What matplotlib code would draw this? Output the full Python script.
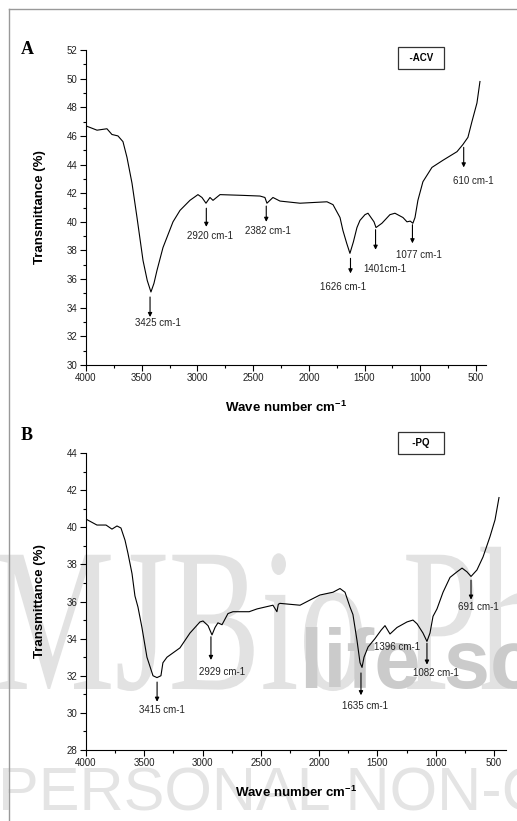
import matplotlib
matplotlib.use("Agg")
import matplotlib.pyplot as plt
from matplotlib.ticker import MultipleLocator
from matplotlib.lines import Line2D
from matplotlib.textpath import TextPath
from matplotlib.patches import PathPatch
from matplotlib.font_manager import FontProperties
from matplotlib.transforms import Affine2D, IdentityTransform

plt.rcParams['font.family'] = ['Liberation Sans', 'DejaVu Sans']
plt.rcParams['mathtext.fontset'] = 'custom'
plt.rcParams['mathtext.rm'] = 'Liberation Sans'
plt.rcParams['mathtext.bf'] = 'Liberation Sans:bold'

# ---- panel A : ACV spectrum ----
wave_A = [4000, 3901, 3812, 3767, 3713, 3668, 3632, 3587, 3542, 3488,
          3450, 3417, 3390, 3363, 3309, 3219, 3156, 3067, 2995, 2959,
          2923, 2887, 2860, 2797, 2600, 2438, 2394, 2376, 2322, 2259,
          2079, 1837, 1783, 1720, 1694, 1660, 1631, 1600, 1568, 1541,
          1496, 1469, 1415, 1397, 1344, 1272, 1227, 1155, 1119, 1090,
          1066, 1047, 1021, 976, 895, 796, 670, 617, 572, 536,
          491, 464]
trans_A = [46.7, 46.4, 46.5, 46.1, 46.0, 45.6, 44.5, 42.7, 40.3, 37.3,
           35.9, 35.1, 35.7, 36.6, 38.2, 40.0, 40.8, 41.5, 41.9, 41.7,
           41.3, 41.7, 41.5, 41.9, 41.85, 41.8, 41.7, 41.3, 41.7, 41.45,
           41.3, 41.4, 41.2, 40.3, 39.4, 38.5, 37.8, 38.6, 39.6, 40.1,
           40.5, 40.6, 40.0, 39.6, 39.9, 40.5, 40.6, 40.3, 40.0, 40.05,
           39.9, 40.3, 41.5, 42.8, 43.8, 44.3, 44.9, 45.4, 45.9, 47.0,
           48.3, 49.8]
peaks_A = [3425, 2920, 2382, 1626, 1401, 1077, 610]
labels_A = ["3425 cm-1", "2920 cm-1", "2382 cm-1", "1626 cm-1",
            "1401cm-1", "1077 cm-1", "610 cm-1"]

# ---- panel B : PQ spectrum ----
wave_B = [4000, 3906, 3828, 3777, 3734, 3700, 3665, 3640, 3605, 3580,
          3554, 3520, 3477, 3425, 3391, 3357, 3340, 3305, 3194, 3108,
          3022, 2996, 2953, 2919, 2893, 2868, 2833, 2816, 2782, 2739,
          2600, 2533, 2396, 2362, 2350, 2336, 2164, 2078, 1993, 1881,
          1821, 1778, 1735, 1710, 1675, 1649, 1632, 1615, 1580, 1521,
          1469, 1435, 1392, 1332, 1246, 1195, 1160, 1109, 1075, 1049,
          1023, 989, 937, 877, 817, 774, 732, 697, 646, 594,
          534, 491, 457]
trans_B = [40.44, 40.12, 40.12, 39.9, 40.07, 39.96, 39.3, 38.6, 37.5, 36.3,
           35.7, 34.6, 33.0, 32.0, 31.9, 32.0, 32.7, 33.0, 33.5, 34.3,
           34.9, 34.95, 34.7, 34.2, 34.6, 34.85, 34.75, 34.95, 35.35, 35.45,
           35.45, 35.6, 35.8, 35.45, 35.85, 35.9, 35.8, 36.08, 36.35, 36.5,
           36.7, 36.5, 35.7, 35.3, 33.9, 32.7, 32.45, 33.0, 33.55, 34.0,
           34.45, 34.7, 34.25, 34.6, 34.9, 35.0, 34.8, 34.3, 33.85, 34.3,
           35.2, 35.6, 36.5, 37.3, 37.6, 37.8, 37.6, 37.35, 37.7, 38.4,
           39.5, 40.4, 41.6]
peaks_B = [3415, 2929, 1635, 1396, 1082, 691]
labels_B = ["3415 cm-1", "2929 cm-1", "1635 cm-1", "1396 cm-1",
            "1082 cm-1", "691 cm-1"]

# annotation layout: (arrow x, arrow start y, arrow tip y, text x, text y); None = no arrow
layout_A = [(3425, 34.75, 33.35, 3354, 32.9),
            (2920, 40.95, 39.65, 2887, 39.0),
            (2382, 41.1, 40.0, 2367, 39.35),
            (1626, 37.45, 36.4, 1694, 35.45),
            (1401, 39.45, 38.05, 1317, 36.7),
            (1070, 39.8, 38.5, 1012, 37.7),
            (610, 45.2, 43.8, 527, 42.85)]
layout_B = [(3390, 31.66, 30.6, 3348, 30.16),
            (2928, 34.1, 32.85, 2833, 32.2),
            (1641, 32.15, 30.95, 1607, 30.37),
            (None, None, None, 1332, 33.55),
            (1075, 33.75, 32.6, 997, 32.15),
            (697, 37.15, 36.1, 637, 35.7)]

fig = plt.figure(figsize=(5.17, 8.21), dpi=100)

# watermark behind the plots
tp = TextPath((0, 0), "MJBio Ph", size=1, prop=FontProperties(family='Liberation Serif'))
tr = Affine2D().scale(138, 205).translate(-8, 132) + IdentityTransform()
fig.add_artist(PathPatch(tp, transform=tr, facecolor='#e2e2e2', edgecolor='none', zorder=-2))
fig.text(300/517, 1 - 688/821, "life scie", fontsize=60, fontweight='bold',
         color='#cbcbcb', ha='left', va='baseline', zorder=-1)
fig.text(-2/517, 1 - 810/821, "PERSONAL NON-COMMERCIAL", fontsize=44,
         color='#e4e4e4', ha='left', va='baseline', zorder=-1)

# page frame
fig.add_artist(Line2D([9/517, 1], [1 - 9/821, 1 - 9/821], transform=fig.transFigure,
                      color='#999999', lw=1))
fig.add_artist(Line2D([9/517, 9/517], [0, 1 - 9/821], transform=fig.transFigure,
                      color='#999999', lw=1))

axA = fig.add_axes([0.1663, 0.5554, 0.7737, 0.3837])
axB = fig.add_axes([0.1663, 0.0865, 0.8124, 0.3617])

panels = [(axA, wave_A, trans_A, labels_A, layout_A, (30, 52), 410),
          (axB, wave_B, trans_B, labels_B, layout_B, (28, 44), 397)]

for ax, w, t, labs, lay, ylim, xend in panels:
    ax.set_facecolor('none')
    ax.plot(w, t, color='black', lw=0.8)
    for (ax_x, y0, y1, tx, ty), lab in zip(lay, labs):
        if ax_x is not None:
            ax.annotate('', xy=(ax_x, y1), xytext=(ax_x, y0),
                        arrowprops=dict(arrowstyle='-|>', color='black', lw=0.8,
                                        mutation_scale=6, shrinkA=0, shrinkB=0))
        ax.text(tx, ty, lab, ha='center', va='center', fontsize=7, color='#222222')
    ax.set_xlim(4000, xend)
    ax.set_ylim(*ylim)
    ax.xaxis.set_major_locator(MultipleLocator(500))
    ax.xaxis.set_minor_locator(MultipleLocator(250))
    ax.yaxis.set_major_locator(MultipleLocator(2))
    ax.yaxis.set_minor_locator(MultipleLocator(1))
    ax.spines['top'].set_visible(False)
    ax.spines['right'].set_visible(False)
    ax.tick_params(which='major', direction='out', length=4, width=0.8, labelsize=7,
                   labelcolor='#222222', pad=2)
    ax.tick_params(which='minor', direction='out', length=2.5, width=0.8)
    ax.set_xlabel(r"Wave number cm$^{\mathbf{-1}}$", fontsize=9.5, fontweight='bold', labelpad=12)
    ax.set_ylabel("Transmittance (%)", fontsize=9.5, fontweight='bold', labelpad=15)

axA.text(0.8375, 0.975, "  -ACV  ", transform=axA.transAxes, ha='center', va='center',
         fontsize=7, fontweight='bold',
         bbox=dict(boxstyle='square,pad=0.6', facecolor='white', edgecolor='#333333', lw=0.9))
axB.text(0.798, 1.034, "   -PQ   ", transform=axB.transAxes, ha='center', va='center',
         fontsize=7, fontweight='bold', clip_on=False,
         bbox=dict(boxstyle='square,pad=0.6', facecolor='white', edgecolor='#333333', lw=0.9))

fig.text(27/517, 1 - 49/821, "A", fontsize=13, fontweight='bold', family='Liberation Serif',
         ha='center', va='center')
fig.text(27/517, 1 - 435/821, "B", fontsize=13, fontweight='bold', family='Liberation Serif',
         ha='center', va='center')

plt.savefig("out.png", dpi=100)
